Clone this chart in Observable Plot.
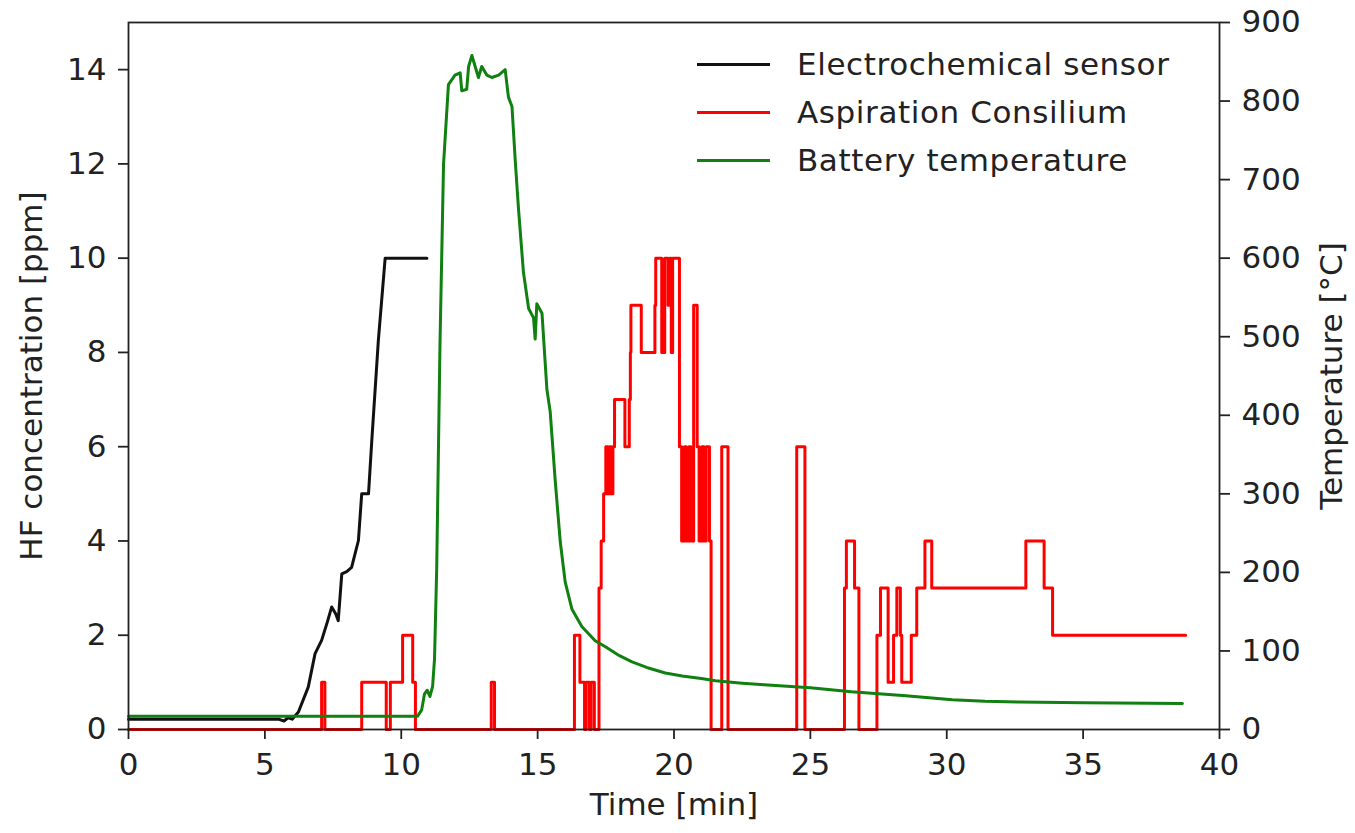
<!DOCTYPE html>
<html><head><meta charset="utf-8">
<script src="https://cdn.jsdelivr.net/npm/d3@7"></script>
<script src="https://cdn.jsdelivr.net/npm/@observablehq/plot@0.6"></script>
<style>
body{margin:0;background:#fff;}
#wrap{position:relative;width:1355px;height:833px;font-family:"DejaVu Sans",sans-serif;}
#legend{position:absolute;left:697px;top:40px;}
.row{display:flex;align-items:center;height:48px;}
.sw{width:73px;height:0;border-top:3px solid;margin-right:27px;}
.lb{font-size:31px;letter-spacing:0.6px;color:#222;white-space:nowrap;}
</style></head><body><div id="wrap"><div id="legend"></div></div>
<script>
// Electrochemical sensor (ppm)
const sensorTime  = [0, 5.5, 5.7, 5.85, 6.0, 6.23, 6.59, 6.84, 7.08, 7.3, 7.45, 7.6, 7.69, 7.82, 8.0, 8.18, 8.43, 8.55, 8.8, 8.92, 9.16, 9.41, 10.94];
const sensorValue = [0.22, 0.22, 0.18, 0.25, 0.22, 0.37, 0.90, 1.61, 1.89, 2.3, 2.60, 2.45, 2.31, 3.30, 3.35, 3.44, 4.01, 5.0, 5.0, 6.13, 8.25, 10.0, 10.0];

// Aspiration Consilium (ppm, step values)
const aspTime  = [0, 7.08, 7.2, 8.55, 9.45, 9.6, 10.05, 10.42, 10.52, 13.3, 13.42, 16.35, 16.55, 16.72, 16.78, 16.9, 16.96, 17.08,
  17.25, 17.33, 17.42, 17.5, 17.58, 17.64, 17.7, 17.76, 17.82, 18.2, 18.36, 18.4, 18.42, 18.8, 19.3, 19.33, 19.55, 19.66, 19.78, 19.84, 19.9, 19.95,
  20.2, 20.28, 20.38, 20.45, 20.55, 20.62, 20.72, 20.85, 20.92, 21.02, 21.1, 21.18, 21.3, 21.36, 21.75, 21.98, 24.5, 24.8,
  26.25, 26.32, 26.62, 26.78, 27.44, 27.57, 27.85, 28.05, 28.17, 28.3, 28.35, 28.7, 28.9, 29.2, 29.45, 32.9, 33.57, 33.88, 38.76];
const aspValue = [0, 1, 0, 1, 0, 1, 2, 1, 0, 1, 0, 2, 1, 0, 1, 0, 1, 0,
  3, 4, 5, 6, 5, 6, 5, 6, 7, 6, 7, 8, 9, 8, 9, 10, 8, 10, 9, 10, 8, 10,
  6, 4, 6, 4, 6, 4, 9, 6, 4, 6, 4, 6, 4, 0, 6, 0, 6, 0,
  3, 4, 3, 0, 2, 3, 1, 2, 3, 2, 1, 2, 3, 4, 3, 4, 3, 2, 2];

// Battery temperature (°C)
const tempTime  = [0, 10.6, 10.75, 10.85, 10.95, 11.05, 11.15, 11.22, 11.30, 11.42, 11.55, 11.73, 11.97, 12.16, 12.22, 12.40, 12.47, 12.59, 12.71, 12.83, 12.95, 13.14, 13.32, 13.57, 13.81, 13.93, 14.06, 14.18, 14.30, 14.48, 14.67, 14.85, 14.91, 14.97, 15.16, 15.34, 15.46, 15.64, 15.83, 16.01, 16.26, 16.62, 17.11, 17.5, 18.0, 18.46, 19.0, 19.68, 20.3, 21.0, 21.52, 22.5, 23.3, 25.0, 26.5, 28.5, 30.2, 31.4, 32.65, 35.0, 38.64];
const tempValue = [17, 17, 25, 45, 50, 42, 55, 90, 205, 490, 719, 821, 833, 836, 813, 815, 844, 858, 844, 830, 844, 833, 830, 833, 840, 805, 793, 724, 662, 582, 536, 524, 497, 542, 530, 433, 405, 319, 239, 188, 153, 131, 113, 105, 94, 86, 79, 72, 68, 65, 62, 59, 57, 53, 48, 43, 38, 36, 35, 34, 33];

const xTicks = [0, 5, 10, 15, 20, 25, 30, 35, 40];
const hfTicks = [0, 2, 4, 6, 8, 10, 12, 14];
const tempTicks = [0, 100, 200, 300, 400, 500, 600, 700, 800, 900];
const tempPerPpm = 60; // right axis 0–900 °C spans left axis 0–15 ppm

const legendLabels = ["Electrochemical sensor", "Aspiration Consilium", "Battery temperature"];
const legendColors = ["#111111", "#ff0000", "#108010"];

const sensor = sensorTime.map((t, i) => ({t, v: sensorValue[i]}));
const asp = aspTime.map((t, i) => ({t, v: aspValue[i]}));
const temp = tempTime.map((t, i) => ({t, v: tempValue[i] / tempPerPpm}));

const axisStyle = {tickSize: 10, strokeWidth: 1.8, stroke: "#222", fill: "#222"};

const chart = Plot.plot({
  width: 1355, height: 833,
  marginLeft: 128, marginRight: 136, marginTop: 22, marginBottom: 104,
  style: {fontFamily: "DejaVu Sans", fontSize: "31px", color: "#222", background: "#fff"},
  x: {domain: [0, 40]},
  y: {domain: [0, 15]},
  marks: [
    Plot.line(sensor, {x: "t", y: "v", stroke: legendColors[0], strokeWidth: 3}),
    Plot.line(asp, {x: "t", y: "v", stroke: legendColors[1], strokeWidth: 3, curve: "step-after"}),
    Plot.line(temp, {x: "t", y: "v", stroke: legendColors[2], strokeWidth: 3}),
    Plot.frame({stroke: "#222", strokeWidth: 1.8}),
    Plot.axisX({...axisStyle, ticks: xTicks, tickPadding: 13, label: "Time [min]", labelAnchor: "center", labelArrow: "none", labelOffset: 85}),
    Plot.axisY({...axisStyle, anchor: "left", ticks: hfTicks, tickPadding: 12, label: "HF concentration [ppm]", labelAnchor: "center", labelArrow: "none", labelOffset: 109}),
    Plot.axisY({...axisStyle, anchor: "right", ticks: tempTicks.map(d => d / tempPerPpm), tickFormat: v => String(Math.round(v * tempPerPpm)), tickPadding: 12, label: "Temperature [°C]", labelAnchor: "center", labelArrow: "none", labelOffset: 122})
  ]
});

const wrap = document.getElementById("wrap");
wrap.insertBefore(chart, wrap.firstChild);

const legend = document.getElementById("legend");
legendLabels.forEach((lab, i) => {
  const row = document.createElement("div");
  row.className = "row";
  const sw = document.createElement("div");
  sw.className = "sw";
  sw.style.borderTopColor = legendColors[i];
  const tx = document.createElement("span");
  tx.className = "lb";
  tx.textContent = lab;
  row.appendChild(sw); row.appendChild(tx);
  legend.appendChild(row);
});
</script></body></html>
